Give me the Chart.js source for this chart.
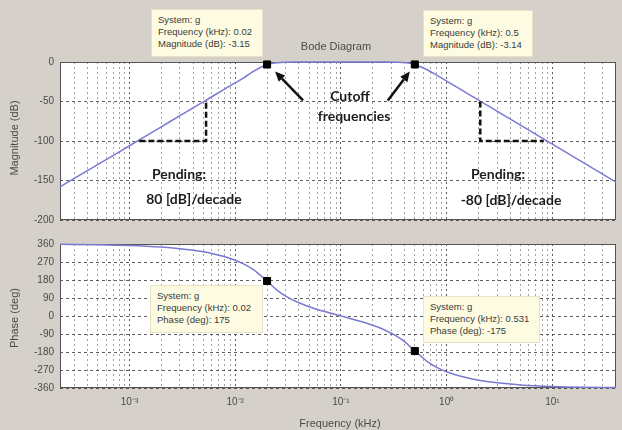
<!DOCTYPE html>
<html>
<head>
<meta charset="utf-8">
<script src="https://cdn.jsdelivr.net/npm/chart.js@4.4.1/dist/chart.umd.min.js"></script>
<style>
  body { margin:0; background:#d5d1ca; font-family:"Liberation Sans", Arial, sans-serif; }
  #wrap { position:relative; width:622px; height:430px; overflow:hidden; background:#d5d1ca; }
  canvas { position:absolute; left:0; }
  .tip { position:absolute; background:#fdfce2; border:1px solid #e6e3c6; color:#3a3a3a;
         font-size:9.5px; line-height:12px; padding:4px 6px; box-sizing:border-box; white-space:nowrap; }
  .lbl { position:absolute; color:#4a4a4a; font-size:11px; white-space:nowrap; }
  .note { position:absolute; color:#1c1c1c; font-family:Lato, "Open Sans", sans-serif; font-weight:bold;
          font-size:14px; white-space:nowrap; transform:translate(-50%,-50%); }
</style>
</head>
<body>
<div id="wrap">
  <canvas id="chart-mag" width="622" height="232" style="top:0"></canvas>
  <canvas id="chart-phase" width="622" height="198" style="top:232px"></canvas>

  <div class="lbl" style="left:336px;top:46px;transform:translate(-50%,-50%)">Bode Diagram</div>
  <div class="lbl" style="left:14px;top:138px;transform:translate(-50%,-50%) rotate(-90deg)">Magnitude (dB)</div>
  <div class="lbl" style="left:14px;top:318px;transform:translate(-50%,-50%) rotate(-90deg)">Phase (deg)</div>
  <div class="lbl" style="left:340px;top:423px;transform:translate(-50%,-50%)">Frequency (kHz)</div>

  <div class="tip" style="left:151px;top:9px;width:112px;height:48px">System: g<br>Frequency (kHz): 0.02<br>Magnitude (dB): -3.15</div>
  <div class="tip" style="left:423px;top:10px;width:110px;height:47px">System: g<br>Frequency (kHz): 0.5<br>Magnitude (dB): -3.14</div>
  <div class="tip" style="left:150px;top:285px;width:113px;height:48px">System: g<br>Frequency (kHz): 0.02<br>Phase (deg): 175</div>
  <div class="tip" style="left:423px;top:296px;width:117px;height:47px">System: g<br>Frequency (kHz): 0.531<br>Phase (deg): -175</div>

  <div class="note" style="left:350px;top:95px">Cutoff</div>
  <div class="note" style="left:354px;top:115px">frequencies</div>
  <div class="note" style="left:179px;top:173px">Pending:</div>
  <div class="note" style="left:194px;top:198px">80 [dB]/decade</div>
  <div class="note" style="left:498px;top:173px">Pending:</div>
  <div class="note" style="left:511px;top:199px">-80 [dB]/decade</div>
</div>

<script>
// ---- datos ----
var freqKHz = [0.00022, 0.0005, 0.001, 0.002, 0.003, 0.004, 0.005, 0.006, 0.008, 0.01, 0.012, 0.015,
               0.02, 0.025, 0.03, 0.04, 0.05, 0.07, 0.1, 0.143, 0.2, 0.25, 0.333, 0.4, 0.5, 0.667,
               0.833, 1, 1.25, 1.667, 2, 2.5, 3.333, 5, 10, 20, 40];
var magnitudeDb = [-158, -130, -106, -82, -68, -58, -50.5, -44, -34, -26.5, -20, -11.5,
                   -3.2, -0.8, -0.2, -0.02, 0, 0, 0, 0, 0, -0.02, -0.17, -0.67, -3.1, -10.4,
                   -17.8, -24.1, -31.8, -41.8, -48.2, -55.9, -65.9, -80, -104, -128, -152];
var phaseDeg = [358.3, 356.1, 352.2, 344.4, 336.6, 328.7, 320.7, 312.7, 296.2, 279, 260.7, 230.3,
                174, 128.4, 99.3, 66, 46.4, 22.3, 0, -22.3, -46.4, -66, -99.3, -128.4, -174, -230.3,
                -260.7, -279, -296.2, -312.7, -320.7, -328.7, -336.6, -344.4, -352.2, -356.1, -358.1];

var magTicks = [0, -50, -100, -150, -200];
var phaseTicks = [360, 270, 180, 90, 0, -90, -180, -270, -360];
var decadeLabels = ['10\u207B\u00B3', '10\u207B\u00B2', '10\u207B\u00B9', '10\u2070', '10\u00B9'];
var freqMin = 0.00022, freqMax = 40;

// marcadores (data tips)
var cutoffFreq = [0.02, 0.5];
var cutoffMag = [-3.15, -3.14];
var tipPhaseFreq = [0.02, 0.5];
var tipPhaseDeg = [175, -175];

// triángulos de pendiente
var slopeLeftX = [0.00124, 0.0053, 0.0053];
var slopeLeftY = [-100, -100, -50];
var slopeRightX = [2.08, 2.08, 8.3];
var slopeRightY = [-50, -100, -100];

// ---- helpers ----
function pts(xs, ys) {
  return xs.map(function(x, i) { return { x: x, y: ys[i] }; });
}
function isDecade(v) {
  var l = Math.log10(v);
  return Math.abs(l - Math.round(l)) < 1e-6;
}
function logTicks(scale) {
  var t = [];
  for (var e = -4; e <= 1; e++) {
    for (var d = 1; d <= 9; d++) {
      var v = d * Math.pow(10, e);
      if (v > freqMin * 1.0001 && v < freqMax * 0.9999) t.push({ value: v });
    }
  }
  scale.ticks = t;
}
function gridColor(ctx) {
  if (ctx.tick && ctx.type === 'tick' && ctx.scale.axis === 'x') {
    return isDecade(ctx.tick.value) ? 'rgba(40,40,40,0.75)' : 'rgba(70,70,70,0.5)';
  }
  return 'rgba(40,40,40,0.75)';
}

var LINE = '#7a7ad2';
var TICK_FONT = { family: '"Liberation Sans", Arial, sans-serif', size: 10 };

var frame = {
  id: 'frame',
  beforeDraw: function(chart) {
    var a = chart.chartArea, c = chart.ctx;
    c.save();
    c.fillStyle = '#ffffff';
    c.fillRect(a.left, a.top, a.right - a.left, a.bottom - a.top);
    c.restore();
  },
  beforeDatasetsDraw: function(chart) {
    var a = chart.chartArea, c = chart.ctx;
    c.save();
    c.strokeStyle = '#555';
    c.lineWidth = 1;
    c.strokeRect(a.left + 0.5, a.top + 0.5, a.right - a.left - 1, a.bottom - a.top - 1);
    c.restore();
  }
};

function arrow(c, x1, y1, x2, y2) {
  var ang = Math.atan2(y2 - y1, x2 - x1), L = 10, W = 4.5;
  var bx = x2 - L * Math.cos(ang), by = y2 - L * Math.sin(ang);
  c.beginPath();
  c.moveTo(x1, y1); c.lineTo(bx, by);
  c.stroke();
  c.beginPath();
  c.moveTo(x2, y2);
  c.lineTo(bx + W * Math.sin(ang), by - W * Math.cos(ang));
  c.lineTo(bx - W * Math.sin(ang), by + W * Math.cos(ang));
  c.closePath();
  c.fill();
}

// flechas hacia las frecuencias de corte
var arrows = {
  id: 'arrows',
  afterDatasetsDraw: function(chart) {
    var xs = chart.scales.x, ys = chart.scales.y, c = chart.ctx;
    var p1x = xs.getPixelForValue(cutoffFreq[0]), p1y = ys.getPixelForValue(cutoffMag[0]);
    var p2x = xs.getPixelForValue(cutoffFreq[1]), p2y = ys.getPixelForValue(cutoffMag[1]);
    c.save();
    c.strokeStyle = '#111'; c.fillStyle = '#111'; c.lineWidth = 2.5;
    arrow(c, p1x + 36, p1y + 36, p1x + 8, p1y + 7);
    arrow(c, p2x - 27, p2y + 36, p2x - 5, p2y + 7);
    c.restore();
  }
};

function xScale(showLabels) {
  return {
    type: 'logarithmic',
    min: freqMin,
    max: freqMax,
    afterBuildTicks: logTicks,
    afterFit: function(s) { s.height = showLabels ? 42 : 0; },
    grid: { color: gridColor, lineWidth: 1, drawTicks: false },
    border: { display: false, dash: [2, 3] },
    ticks: {
      display: showLabels,
      autoSkip: false,
      maxRotation: 0,
      padding: 8,
      color: '#4a4a4a',
      font: TICK_FONT,
      callback: function(v) {
        return isDecade(v) ? decadeLabels[Math.round(Math.log10(v)) + 3] : '';
      }
    }
  };
}

function yScale(min, max, list) {
  return {
    min: min,
    max: max,
    afterBuildTicks: function(s) { s.ticks = list.map(function(v) { return { value: v }; }); },
    afterFit: function(s) { s.width = 60; },
    grid: { color: gridColor, lineWidth: 1, drawTicks: false },
    border: { display: false, dash: [3, 3] },
    ticks: { padding: 6, color: '#4a4a4a', font: TICK_FONT }
  };
}

var baseOpts = {
  responsive: false,
  animation: false,
  devicePixelRatio: 1,
  plugins: { legend: { display: false }, tooltip: { enabled: false } },
  elements: { point: { radius: 0 } }
};

// ============ MAGNITUD ============
new Chart(document.getElementById('chart-mag'), {
  type: 'line',
  data: {
    datasets: [
      { data: pts(cutoffFreq, cutoffMag), showLine: false, pointStyle: 'rect', pointRadius: 5,
        backgroundColor: '#000', borderColor: '#000', order: 0, clip: false },
      { data: pts(slopeLeftX, slopeLeftY), borderColor: '#111', borderWidth: 2.5, borderDash: [6, 3], order: 1 },
      { data: pts(slopeRightX, slopeRightY), borderColor: '#111', borderWidth: 2.5, borderDash: [6, 3], order: 1 },
      { data: pts(freqKHz, magnitudeDb), borderColor: LINE, borderWidth: 1.5,
        cubicInterpolationMode: 'monotone', order: 2, clip: 2 }
    ]
  },
  options: Object.assign({}, baseOpts, {
    layout: { padding: { top: 62, right: 2, bottom: 4, left: 0 } },
    scales: { x: xScale(false), y: yScale(-200, 0, magTicks) }
  }),
  plugins: [frame, arrows]
});

// ============ FASE ============
new Chart(document.getElementById('chart-phase'), {
  type: 'line',
  data: {
    datasets: [
      { data: pts(tipPhaseFreq, tipPhaseDeg), showLine: false, pointStyle: 'rect', pointRadius: 5,
        backgroundColor: '#000', borderColor: '#000', order: 0, clip: false },
      { data: pts(freqKHz, phaseDeg), borderColor: LINE, borderWidth: 1.5,
        cubicInterpolationMode: 'monotone', order: 2, clip: 2 }
    ]
  },
  options: Object.assign({}, baseOpts, {
    layout: { padding: { top: 8, right: 2, bottom: 0, left: 0 } },
    scales: { x: xScale(true), y: yScale(-360, 360, phaseTicks) }
  }),
  plugins: [frame]
});
</script>
</body>
</html>
